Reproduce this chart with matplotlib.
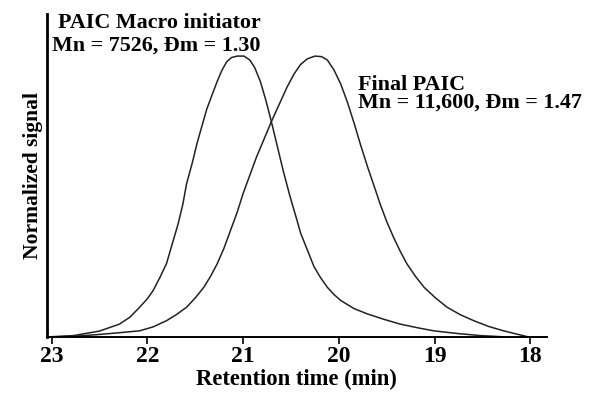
import numpy as np
from matplotlib import pyplot as plt

# GPC traces (retention time in min, normalized signal)
macro_t = [23.00, 22.77, 22.50, 22.29, 22.18, 22.08, 22.00, 21.94, 21.87, 21.80,
           21.74, 21.68, 21.63, 21.59, 21.53, 21.48, 21.43, 21.38, 21.32, 21.27,
           21.22, 21.17, 21.12, 21.06, 20.99, 20.93, 20.88, 20.82, 20.76, 20.70,
           20.64, 20.58, 20.51, 20.45, 20.40, 20.33, 20.26, 20.19, 20.12, 20.05,
           19.98, 19.84, 19.70, 19.53, 19.36, 19.18, 19.01, 18.75, 18.52, 18.30]
macro_s = [0.0, 0.004, 0.02, 0.045, 0.07, 0.105, 0.135, 0.164, 0.21, 0.26,
           0.33, 0.40, 0.47, 0.545, 0.62, 0.69, 0.75, 0.81, 0.865, 0.91,
           0.95, 0.98, 0.995, 1.0, 1.0, 0.986, 0.96, 0.91, 0.84, 0.76,
           0.675, 0.59, 0.50, 0.43, 0.37, 0.31, 0.25, 0.21, 0.176, 0.15,
           0.129, 0.10, 0.081, 0.062, 0.045, 0.032, 0.021, 0.011, 0.004, 0.0]

final_t = [22.90, 22.70, 22.50, 22.30, 22.08, 21.94, 21.80, 21.70, 21.59, 21.50,
           21.41, 21.34, 21.27, 21.20, 21.13, 21.06, 21.00, 20.93, 20.86, 20.78,
           20.70, 20.62, 20.54, 20.47, 20.40, 20.33, 20.25, 20.18, 20.12, 20.05,
           19.98, 19.91, 19.84, 19.77, 19.70, 19.63, 19.57, 19.50, 19.43, 19.36,
           19.29, 19.20, 19.11, 18.99, 18.87, 18.73, 18.59, 18.44, 18.28, 18.15,
           18.03]
final_s = [0.0, 0.003, 0.008, 0.014, 0.021, 0.035, 0.057, 0.078, 0.105, 0.138,
           0.176, 0.215, 0.26, 0.315, 0.38, 0.445, 0.51, 0.575, 0.64, 0.705,
           0.77, 0.83, 0.89, 0.935, 0.97, 0.99, 1.0, 0.998, 0.986, 0.95,
           0.90, 0.835, 0.76, 0.68, 0.605, 0.535, 0.474, 0.41, 0.355, 0.305,
           0.26, 0.215, 0.176, 0.138, 0.105, 0.078, 0.057, 0.037, 0.021, 0.01,
           0.0]

xticks = [23, 22, 21, 20, 19, 18]

plt.rcParams['font.family'] = ['Liberation Serif', 'DejaVu Serif']
plt.rcParams['font.weight'] = 'bold'

fig = plt.figure(figsize=(5.9, 3.94), dpi=100)
ax = fig.add_axes([0.0792, 0.1454, 0.8474, 0.8191])

ax.plot(macro_t, macro_s, color='#222222', lw=1.1)
ax.plot(final_t, final_s, color='#222222', lw=1.1)

ax.set_xlim(23.05, 17.83)
ax.set_ylim(0, 1.15)
ax.set_xticks(xticks)
ax.set_xticklabels([str(v) for v in xticks], fontsize=17, fontweight='bold')
ax.set_yticks([])
ax.tick_params(axis='x', direction='out', length=5, width=1.2, pad=2)
for side in ['top', 'right']:
    ax.spines[side].set_visible(False)
ax.spines['left'].set_linewidth(2.0)
ax.spines['bottom'].set_linewidth(1.4)

ax.set_xlabel("Retention time (min)", fontsize=16.3, fontweight='bold', labelpad=1)
ax.set_ylabel("Normalized signal", fontsize=15.5, fontweight='bold', labelpad=3)

fig.text(58 / 590, 1 - 23 / 394, "PAIC Macro initiator", fontsize=15.8,
         fontweight='bold', va='center', ha='left')
fig.text(52 / 590, 1 - 46 / 394, "Mn = 7526, Đm = 1.30", fontsize=15.8,
         fontweight='bold', va='center', ha='left')
fig.text(358 / 590, 1 - 94 / 394, "Final PAIC\nMn = 11,600, Đm = 1.47",
         fontsize=15.8, fontweight='bold', va='center', ha='left',
         linespacing=0.82, multialignment='left')

plt.savefig("out.png", dpi=100)
